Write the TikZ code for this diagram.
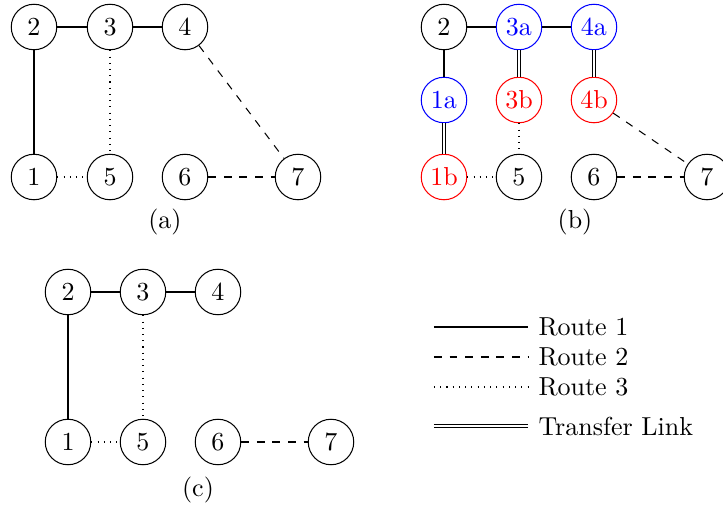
\documentclass[tikz,border=0pt]{standalone}
\begin{document}
\begin{tikzpicture}[x=0.3846pt,y=-0.3846pt,
  st/.style={circle,draw,minimum size=17.5pt,inner sep=0pt},
  bst/.style={st,draw=blue,text=blue},
  rst/.style={st,draw=red,text=red},
  rone/.style={},
  rtwo/.style={dashed},
  rthree/.style={dotted},
  xfer/.style={double,double distance=0.5pt},
  lbl/.style={inner sep=0pt}]
\useasboundingbox (0,0) rectangle (723,506);
% (a)
\node[st] (a2) at (34,27) {2};
\node[st] (a3) at (110,27) {3};
\node[st] (a4) at (185,27) {4};
\node[st] (a1) at (34,177) {1};
\node[st] (a5) at (110,177) {5};
\node[st] (a6) at (185,177) {6};
\node[st] (a7) at (298,177) {7};
\draw[rone] (a1) -- (a2);
\draw[rone] (a2) -- (a3);
\draw[rone] (a3) -- (a4);
\draw[rtwo] (a4) -- (a7);
\draw[rtwo] (a6) -- (a7);
\draw[rthree] (a3) -- (a5);
\draw[rthree] (a1) -- (a5);
\node[lbl] (la) at (165,222) {(a)};
% (b)
\node[st] (b2) at (444,27) {2};
\node[bst] (b3a) at (519,27) {3a};
\node[bst] (b4a) at (594,27) {4a};
\node[bst] (b1a) at (444,100) {1a};
\node[rst] (b3b) at (519,100) {3b};
\node[rst] (b4b) at (594,100) {4b};
\node[rst] (b1b) at (444,177) {1b};
\node[st] (b5) at (519,177) {5};
\node[st] (b6) at (594,177) {6};
\node[st] (b7) at (707,177) {7};
\draw[rone] (b2) -- (b1a);
\draw[rone] (b2) -- (b3a);
\draw[rone] (b3a) -- (b4a);
\draw[xfer] (b1a) -- (b1b);
\draw[xfer] (b3a) -- (b3b);
\draw[xfer] (b4a) -- (b4b);
\draw[rtwo] (b4b) -- (b7);
\draw[rtwo] (b6) -- (b7);
\draw[rthree] (b3b) -- (b5);
\draw[rthree] (b1b) -- (b5);
\node[lbl] (lb) at (575,222) {(b)};
% (c)
\node[st] (c2) at (68,292) {2};
\node[st] (c3) at (143,292) {3};
\node[st] (c4) at (218,292) {4};
\node[st] (c1) at (68,442) {1};
\node[st] (c5) at (143,442) {5};
\node[st] (c6) at (218,442) {6};
\node[st] (c7) at (331,442) {7};
\draw[rone] (c1) -- (c2);
\draw[rone] (c2) -- (c3);
\draw[rone] (c3) -- (c4);
\draw[rthree] (c3) -- (c5);
\draw[rthree] (c1) -- (c5);
\draw[rtwo] (c6) -- (c7);
\node[lbl] (lc) at (198,490) {(c)};
% legend
\coordinate (l1s) at (434,327); \coordinate (l1e) at (528,327);
\coordinate (l2s) at (434,357); \coordinate (l2e) at (528,357);
\coordinate (l3s) at (434,387); \coordinate (l3e) at (528,387);
\coordinate (l4s) at (434,426); \coordinate (l4e) at (528,426);
\draw[rone] (l1s) -- (l1e);
\draw[rtwo] (l2s) -- (l2e);
\draw[rthree] (l3s) -- (l3e);
\draw[xfer] (l4s) -- (l4e);
\node[anchor=west,inner sep=0pt] (t1) at (538,327) {Route 1};
\node[anchor=west,inner sep=0pt] (t2) at (538,357) {Route 2};
\node[anchor=west,inner sep=0pt] (t3) at (538,387) {Route 3};
\node[anchor=west,inner sep=0pt] (t4) at (538,426) {Transfer Link};
\end{tikzpicture}
\end{document}
